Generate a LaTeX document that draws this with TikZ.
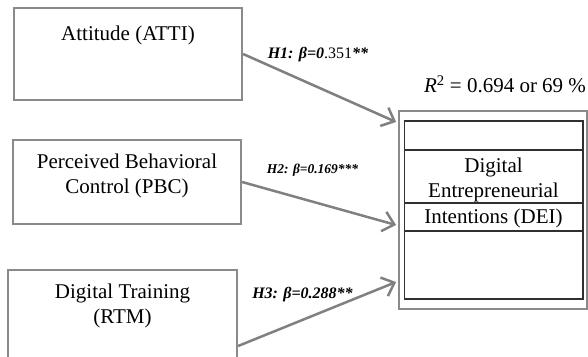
\documentclass[tikz,border=0pt]{standalone}
\usepackage{fontspec}
\setmainfont{Liberation Serif}
\usetikzlibrary{calc}
\usetikzlibrary{arrows.meta}
\usetikzlibrary{positioning}
\definecolor{BoxGray}{HTML}{8A8A8A}
\definecolor{ArrowGray}{HTML}{808080}
\definecolor{CellBlack}{HTML}{303030}
\tikzset{
  factor/.style={draw=BoxGray, line width=2.2pt, rectangle, inner sep=0pt},
  factortext/.style={font=\fontsize{21}{25}\selectfont, align=center, inner sep=0pt},
  cell/.style={draw=CellBlack, line width=1.2pt},
  hyparrow/.style={ArrowGray, line width=2.5pt, -{Straight Barb[length=11pt,width=20pt]}},
  hyplabel/.style={font=\fontsize{16}{19}\selectfont\bfseries\itshape, inner sep=0pt}
}

\begin{document}
\begin{tikzpicture}[x=1pt,y=1pt]
  \useasboundingbox (0,0) rectangle (588,356);

  % predictors
  \node[factor, minimum width=228pt, minimum height=92pt] (atti) at (128,302) {};
  \node[factor, minimum width=228pt, minimum height=84pt] (pbc) at (127,174) {};
  \node[factor, minimum width=229pt, minimum height=100pt] (rtm) at (122.5,36) {};

  \node[factortext, below=19pt of atti.north] (attitext) {Attitude (ATTI)};
  \node[factortext, below=15pt of pbc.north] (pbctext) {Perceived Behavioral\\Control (PBC)};
  \node[factortext, below=15pt of rtm.north] (rtmtext) {Digital Training\\(RTM)};

  % outcome
  \node[draw=BoxGray, line width=1.8pt, minimum width=188pt, minimum height=198pt,
        inner sep=0pt] (dei) at (493,146) {};
  \draw[cell] ($(dei.north west)+(6,-11)$) rectangle ($(dei.south east)+(-5,11)$);
  \foreach \dy in {40,93,121}{%
    \draw[cell] ($(dei.north west)+(6,-\dy)$) -- ($(dei.north east)+(-5,-\dy)$);
  }
  \node[factortext] (deitext) at ($(dei.north)+(0.5,-70)$) {Digital\\Entrepreneurial};
  \node[factortext] (deiname) at ($(dei.north)+(0.5,-108.6)$) {Intentions (DEI)};
  \node[factortext] (rsq) at ($(dei.north)+(12,26)$) {\textit{R}\textsuperscript{2} = 0.694 or 69 \%};

  % paths
  \draw[hyparrow] (atti.east) -- ($(dei.west)+(-2,88)$);
  \draw[hyparrow] (pbc.east) -- ($(dei.west)+(-2,-15)$);
  \draw[hyparrow] ($(rtm.east)+(0,-26)$) -- ($(dei.west)+(-2,-72)$);

  \node[hyplabel] (hone) at (318,301) {H1: β=0{\mdseries\upshape .351}**};
  \node[hyplabel, font=\fontsize{13.5}{16}\selectfont\bfseries\itshape] (htwo) at (312.5,186) {H2: β=0.169***};
  \node[hyplabel] (hthree) at (302.5,61) {H3: β=0.288**};
\end{tikzpicture}
\end{document}
